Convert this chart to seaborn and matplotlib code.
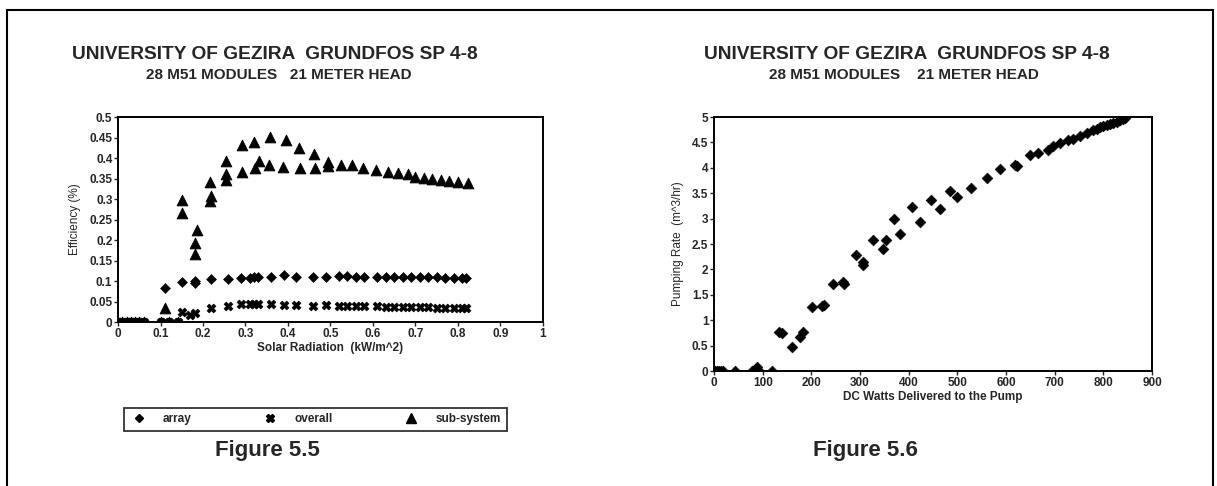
import numpy as np
import pandas as pd
import seaborn as sns
import matplotlib.pyplot as plt
from matplotlib.patches import Rectangle
from matplotlib.lines import Line2D
from matplotlib.ticker import FuncFormatter

# Figure 5.5 - efficiency vs solar radiation
rad_zero = [0.0, 0.01, 0.02, 0.03, 0.04, 0.05, 0.06, 0.10, 0.12, 0.14]

array_x = rad_zero + [0.11, 0.15, 0.18, 0.18, 0.22, 0.26, 0.29, 0.31, 0.32, 0.33,
                      0.36, 0.39, 0.42, 0.46, 0.49, 0.52, 0.54, 0.56, 0.58, 0.61,
                      0.63, 0.65, 0.67, 0.69, 0.71, 0.73, 0.75, 0.77, 0.79, 0.81, 0.82]
array_y = [0] * 10 + [0.083, 0.098, 0.100, 0.094, 0.104, 0.106, 0.108, 0.108, 0.109, 0.110,
                      0.111, 0.114, 0.110, 0.110, 0.111, 0.112, 0.112, 0.111, 0.111, 0.111,
                      0.110, 0.110, 0.110, 0.109, 0.109, 0.109, 0.109, 0.108, 0.108, 0.108, 0.108]

overall_x = rad_zero + [0.15, 0.17, 0.18, 0.22, 0.26, 0.29, 0.31, 0.32, 0.33, 0.36,
                        0.39, 0.42, 0.46, 0.49, 0.52, 0.54, 0.56, 0.58, 0.61, 0.63,
                        0.65, 0.67, 0.69, 0.71, 0.73, 0.75, 0.77, 0.79, 0.81, 0.82]
overall_y = [0] * 10 + [0.025, 0.018, 0.022, 0.034, 0.038, 0.043, 0.044, 0.043, 0.044, 0.044,
                        0.041, 0.041, 0.040, 0.041, 0.039, 0.039, 0.039, 0.038, 0.038, 0.037,
                        0.037, 0.036, 0.036, 0.036, 0.036, 0.035, 0.035, 0.035, 0.035, 0.034]

sub_x = rad_zero + [0.11, 0.15, 0.15, 0.185, 0.18, 0.18, 0.217, 0.219, 0.217, 0.254,
                    0.254, 0.254, 0.292, 0.291, 0.32, 0.322, 0.332, 0.358, 0.355, 0.388,
                    0.395, 0.426, 0.428, 0.461, 0.463, 0.494, 0.494, 0.524, 0.55, 0.577,
                    0.608, 0.635, 0.66, 0.683, 0.70, 0.72, 0.74, 0.76, 0.78, 0.80, 0.824]
sub_y = [0] * 10 + [0.034, 0.297, 0.266, 0.224, 0.193, 0.166, 0.342, 0.307, 0.295, 0.393,
                    0.361, 0.346, 0.432, 0.366, 0.439, 0.375, 0.393, 0.451, 0.383, 0.378,
                    0.444, 0.424, 0.375, 0.41, 0.376, 0.39, 0.38, 0.383, 0.383, 0.376,
                    0.371, 0.366, 0.363, 0.361, 0.353, 0.351, 0.349, 0.346, 0.343, 0.341, 0.338]

# Figure 5.6 - pumping rate vs DC watts
watts = [2, 6, 10, 14, 18, 43, 78, 86, 88, 90, 119, 134, 139, 160, 177, 183, 201, 222,
         225, 245, 265, 268, 292, 306, 306, 327, 347, 353, 370, 382, 407, 423, 446, 464,
         485, 499, 528, 561, 588, 619, 622, 649, 666, 686, 697, 711, 727, 738, 752, 766,
         779, 786, 793, 800, 807, 814, 820, 827, 834, 840, 845]
rate = [0, 0, 0, 0, 0, 0, 0, 0.04, 0.08, 0.02, 0, 0.77, 0.74, 0.47, 0.66, 0.77, 1.26, 1.28,
        1.30, 1.72, 1.75, 1.72, 2.28, 2.15, 2.09, 2.58, 2.40, 2.58, 2.99, 2.70, 3.23, 2.93, 3.36, 3.19,
        3.54, 3.42, 3.60, 3.80, 3.97, 4.06, 4.03, 4.25, 4.29, 4.35, 4.43, 4.49, 4.55, 4.57, 4.63, 4.68,
        4.74, 4.76, 4.80, 4.82, 4.84, 4.86, 4.88, 4.91, 4.94, 4.96, 4.98]

sns.set_style("white")
plt.rcParams['font.family'] = ['Liberation Sans', 'DejaVu Sans']

fig = plt.figure(figsize=(12.17, 4.86), dpi=100)
fmt = FuncFormatter(lambda v, p: f"{v:g}")

# left chart
ax1 = fig.add_axes([0.097, 0.3374, 0.349, 0.4218])
sns.scatterplot(x=sub_x, y=sub_y, marker='^', s=60, color='black', edgecolor='black', ax=ax1)
sns.scatterplot(x=array_x, y=array_y, marker='D', s=26, color='black', edgecolor='black', ax=ax1)
sns.scatterplot(x=overall_x, y=overall_y, marker='X', s=40, color='black', edgecolor='black', ax=ax1)
ax1.set_xlim(0, 1)
ax1.set_ylim(0, 0.5)
ax1.set_xticks(np.arange(0, 1.01, 0.1))
ax1.set_yticks(np.arange(0, 0.501, 0.05))
ax1.set_xlabel('Solar Radiation  (kW/m^2)', fontsize=8.5, fontweight='bold', labelpad=2)
ax1.set_ylabel('Efficiency (%)', fontsize=8.5, labelpad=6)

# right chart
ax2 = fig.add_axes([0.5867, 0.2366, 0.360, 0.5226])
sns.scatterplot(x=watts, y=rate, marker='D', s=30, color='black', edgecolor='black', ax=ax2)
ax2.set_xlim(0, 900)
ax2.set_ylim(0, 5)
ax2.set_xticks(np.arange(0, 901, 100))
ax2.set_yticks(np.arange(0, 5.01, 0.5))
ax2.set_xlabel('DC Watts Delivered to the Pump', fontsize=8.5, fontweight='bold', labelpad=2)
ax2.set_ylabel('Pumping Rate  (m^3/hr)', fontsize=8.5, labelpad=6)

for ax in (ax1, ax2):
    ax.xaxis.set_major_formatter(fmt)
    ax.yaxis.set_major_formatter(fmt)
    ax.tick_params(axis='both', labelsize=8.5, length=3, width=1, pad=1,
                   bottom=True, left=True, direction='out')
    for lab in ax.get_xticklabels() + ax.get_yticklabels():
        lab.set_fontweight('bold')
    for sp in ax.spines.values():
        sp.set_color('black')
        sp.set_linewidth(1.4)

# titles
fig.text(0.226, 0.887, 'UNIVERSITY OF GEZIRA  GRUNDFOS SP 4-8', ha='center', va='center',
         fontsize=13.8, fontweight='bold')
fig.text(0.229, 0.846, '28 M51 MODULES   21 METER HEAD', ha='center', va='center',
         fontsize=11, fontweight='bold')
fig.text(0.745, 0.887, 'UNIVERSITY OF GEZIRA  GRUNDFOS SP 4-8', ha='center', va='center',
         fontsize=13.8, fontweight='bold')
fig.text(0.743, 0.846, '28 M51 MODULES    21 METER HEAD', ha='center', va='center',
         fontsize=11, fontweight='bold')

fig.text(0.22, 0.073, 'Figure 5.5', ha='center', va='center', fontsize=16, fontweight='bold')
fig.text(0.711, 0.073, 'Figure 5.6', ha='center', va='center', fontsize=16, fontweight='bold')

# legend box under left chart
handles = [Line2D([], [], ls='none', marker='D', ms=4, color='black'),
           Line2D([], [], ls='none', marker='X', ms=6, color='black'),
           Line2D([], [], ls='none', marker='^', ms=7, color='black')]
leg = fig.legend(handles, ['array', 'overall', 'sub-system'], ncol=3,
                 loc='center', bbox_to_anchor=(0.259, 0.137),
                 prop={'size': 8.5, 'weight': 'bold'},
                 frameon=True, fancybox=False, columnspacing=5.9, handletextpad=1.3,
                 borderpad=0.5, handlelength=1.5)
leg.get_frame().set_edgecolor('black')
leg.get_frame().set_linewidth(1.3)

# outer border
fig.patches.append(Rectangle((0.0058, -0.01), 0.9909, 0.989, transform=fig.transFigure,
                             fill=False, edgecolor='black', linewidth=1.5))

fig.savefig('out.png', dpi=100)
